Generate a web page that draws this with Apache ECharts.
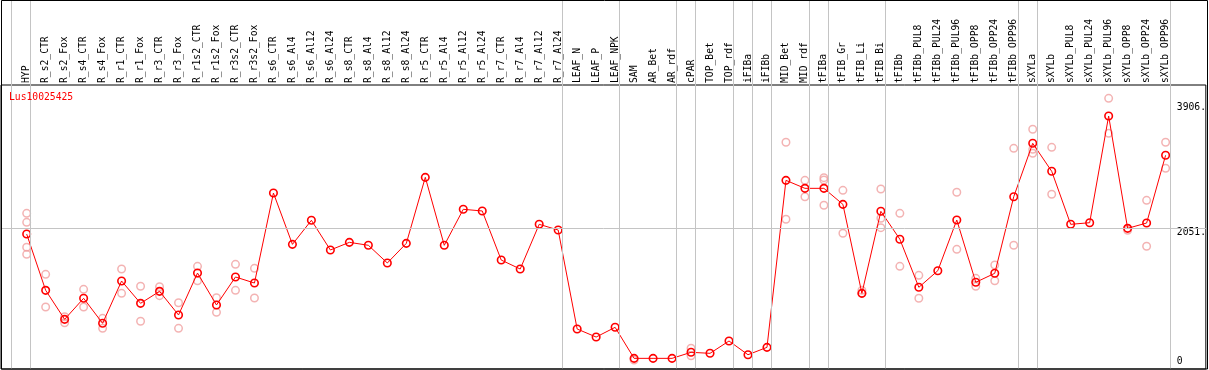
<!DOCTYPE html>
<html>
<head>
<meta charset="utf-8">
<script src="https://cdn.jsdelivr.net/npm/echarts@6/dist/echarts.min.js"></script>
<style>
  html, body { margin: 0; padding: 0; background: #fff; }
  #chart { width: 1209px; height: 370px; }
</style>
</head>
<body>
<div id="chart"></div>
<script>
const geneName = 'Lus10025425';

const categories = [
  'HYP', 'R_s2_CTR', 'R_s2_Fox', 'R_s4_CTR', 'R_s4_Fox', 'R_r1_CTR', 'R_r1_Fox',
  'R_r3_CTR', 'R_r3_Fox', 'R_r1s2_CTR', 'R_r1s2_Fox', 'R_r3s2_CTR', 'R_r3s2_Fox',
  'R_s6_CTR', 'R_s6_Al4', 'R_s6_Al12', 'R_s6_Al24', 'R_s8_CTR', 'R_s8_Al4',
  'R_s8_Al12', 'R_s8_Al24', 'R_r5_CTR', 'R_r5_Al4', 'R_r5_Al12', 'R_r5_Al24',
  'R_r7_CTR', 'R_r7_Al4', 'R_r7_Al12', 'R_r7_Al24', 'LEAF_N', 'LEAF_P', 'LEAF_NPK',
  'SAM', 'AR_Bet', 'AR_rdf', 'cPAR', 'TOP_Bet', 'TOP_rdf', 'iFIBa', 'iFIBb',
  'MID_Bet', 'MID_rdf', 'tFIBa', 'tFIB_Gr', 'tFIB_Li', 'tFIB_Bi', 'tFIBb',
  'tFIBb_PUL8', 'tFIBb_PUL24', 'tFIBb_PUL96', 'tFIBb_OPP8', 'tFIBb_OPP24', 'tFIBb_OPP96',
  'sXYLa', 'sXYLb', 'sXYLb_PUL8', 'sXYLb_PUL24', 'sXYLb_PUL96', 'sXYLb_OPP8',
  'sXYLb_OPP24', 'sXYLb_OPP96'
];

const means = [
  1965, 1125, 692, 1006, 633, 1264, 931,
  1110, 757, 1383, 906, 1324, 1234,
  2577, 1811, 2170, 1727, 1841, 1797,
  1533, 1826, 2811, 1797, 2334, 2309,
  1577, 1443, 2110, 2025, 548, 428, 573,
  110, 110, 110, 200, 185, 369, 164, 274,
  2766, 2647, 2647, 2408, 1080, 2304, 1888,
  1170, 1418, 2174, 1245, 1379, 2522,
  3319, 2901, 2110, 2134, 3726, 2050,
  2129, 3140
];

const replicates = [
  [2274, 2140, 1767, 1662], [1364, 876], [731, 642], [1140, 876], [707, 558], [1443, 1080], [1185, 663],
  [1179, 1045], [940, 558], [1483, 1268], [1015, 797], [1513, 1125], [1453, 1010],
  [], [], [], [], [], [],
  [], [], [], [], [], [],
  [], [], [], [], [], [], [],
  [85], [], [], [260, 149], [], [], [], [],
  [3334, 2185], [2766, 2522], [2806, 2771, 2394], [2617, 1976], [1125, 1080], [2637, 2200, 2060], [2274, 1483],
  [1349, 1006], [], [2588, 1737], [1304, 1185], [1503, 1268], [3244, 1797],
  [3528, 3229, 3170], [3259, 2558], [], [], [3990, 3468], [2021],
  [2468, 1782], [3334, 2946]
];

const yTicks = [0, 2051, 3906];

// category indexes after which a grey group separator is drawn
const groupBreaks = [-1, 0, 28, 31, 34, 35, 37, 38, 39, 41, 42, 45, 52, 53, 60];

const FONT = 'DejaVu Sans Mono';
const FS = 9.7;
const X_MIN = -1.3526, X_MAX = 62.12;
const Y_MIN = -49, Y_MAX = 4189;

const replicatePoints = [];
replicates.forEach((vals, i) => vals.forEach(v => replicatePoints.push([i, v])));

const chart = echarts.init(document.getElementById('chart'), null, { renderer: 'canvas' });

chart.setOption({
  animation: false,
  backgroundColor: '#fff',
  title: {
    text: geneName,
    left: 9, top: 92, padding: 0,
    textStyle: { color: '#ff0000', fontFamily: FONT, fontSize: FS, fontWeight: 'normal' }
  },
  grid: [
    { left: 1, right: 2, top: 85, bottom: 1, show: true, borderColor: '#000', borderWidth: 1, backgroundColor: 'transparent' },
    { left: 1, right: 2, top: 0, bottom: 1, show: false }
  ],
  xAxis: [
    {
      type: 'value', gridIndex: 0, position: 'top', min: X_MIN, max: X_MAX,
      axisLine: { show: false }, axisTick: { show: false }, splitLine: { show: false },
      axisLabel: {
        customValues: categories.map((_, i) => i),
        formatter: v => categories[Math.round(v)] || '',
        rotate: 90, margin: 2, color: '#000', fontFamily: FONT, fontSize: FS,
        showMinLabel: true, showMaxLabel: true
      }
    },
    {
      type: 'value', gridIndex: 1, min: X_MIN, max: X_MAX, show: false
    }
  ],
  yAxis: [
    {
      type: 'value', gridIndex: 0, position: 'right', min: Y_MIN, max: Y_MAX,
      axisLine: { show: false }, axisTick: { show: false }, splitLine: { show: false },
      axisLabel: {
        customValues: yTicks,
        inside: true, align: 'left', margin: 29, verticalAlign: 'middle',
        formatter: v => v === 0 ? '{lo|0}' : '{hi|' + v + '.}',
        rich: {
          hi: { fontFamily: FONT, fontSize: FS, color: '#000', padding: [8, 0, 0, 0] },
          lo: { fontFamily: FONT, fontSize: FS, color: '#000', padding: [0, 0, 8, 0] }
        }
      }
    },
    { type: 'value', gridIndex: 1, min: 0, max: 1, show: false }
  ],
  graphic: [
    {
      type: 'rect', z: 100, silent: true,
      shape: { x: 1.5, y: 0.5, width: 1206, height: 368.5 },
      style: { fill: 'none', stroke: '#000', lineWidth: 1 }
    }
  ],
  series: [
    {
      type: 'line', xAxisIndex: 1, yAxisIndex: 1, data: [], z: 0, silent: true,
      markLine: {
        silent: true, symbol: 'none', animation: false,
        label: { show: false },
        lineStyle: { color: '#c4c4c4', type: 'solid', width: 1 },
        data: groupBreaks.map(b => ({ xAxis: b + 0.21 }))
      }
    },
    {
      type: 'line', xAxisIndex: 0, yAxisIndex: 0, data: [], z: 1, silent: true,
      markLine: {
        silent: true, symbol: 'none', animation: false,
        label: { show: false },
        lineStyle: { color: '#c4c4c4', type: 'solid', width: 1 },
        data: [{ yAxis: yTicks[1] }]
      }
    },
    {
      type: 'scatter', xAxisIndex: 0, yAxisIndex: 0, z: 2,
      data: replicatePoints,
      symbol: 'circle', symbolSize: 7.5,
      itemStyle: { color: 'rgba(0,0,0,0)', borderColor: '#f0a0a0', borderWidth: 1.5 }
    },
    {
      type: 'line', xAxisIndex: 0, yAxisIndex: 0, z: 3,
      data: means.map((v, i) => [i, v]),
      symbol: 'circle', symbolSize: 7.5, showAllSymbol: true,
      itemStyle: { color: 'rgba(0,0,0,0)', borderColor: '#ff0000', borderWidth: 1.6 },
      lineStyle: { color: '#ff0000', width: 1 }
    }
  ]
});
</script>
</body>
</html>
